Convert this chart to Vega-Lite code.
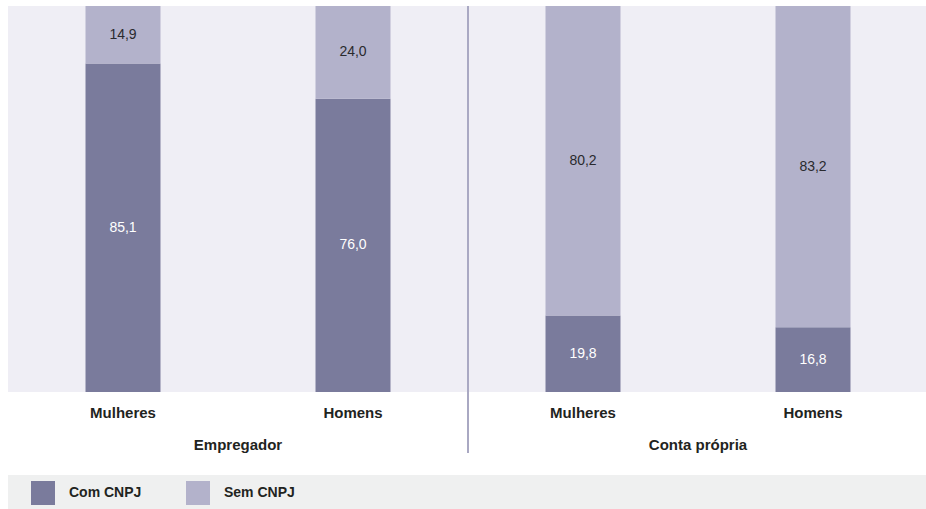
{
  "$schema": "https://vega.github.io/schema/vega-lite/v6.json",
  "width": 920,
  "height": 386,
  "autosize": {"type": "none"},
  "padding": {"left": 8, "top": 6, "right": 0, "bottom": 117},
  "background": "white",
  "config": {
    "view": {"stroke": null, "fill": "#efeef5"},
    "locale": {"number": {"decimal": ",", "thousands": ".", "grouping": [3], "currency": ["R$", ""]}},
    "font": "Liberation Sans"
  },
  "data": {
    "values": [
      {"grupo": "Empregador", "genero": "Mulheres", "coluna": "Empregador|Mulheres", "tipo": "Com CNPJ", "valor": 85.1},
      {"grupo": "Empregador", "genero": "Mulheres", "coluna": "Empregador|Mulheres", "tipo": "Sem CNPJ", "valor": 14.9},
      {"grupo": "Empregador", "genero": "Homens", "coluna": "Empregador|Homens", "tipo": "Com CNPJ", "valor": 76.0},
      {"grupo": "Empregador", "genero": "Homens", "coluna": "Empregador|Homens", "tipo": "Sem CNPJ", "valor": 24.0},
      {"grupo": "Conta própria", "genero": "Mulheres", "coluna": "Conta própria|Mulheres", "tipo": "Com CNPJ", "valor": 19.8},
      {"grupo": "Conta própria", "genero": "Mulheres", "coluna": "Conta própria|Mulheres", "tipo": "Sem CNPJ", "valor": 80.2},
      {"grupo": "Conta própria", "genero": "Homens", "coluna": "Conta própria|Homens", "tipo": "Com CNPJ", "valor": 16.8},
      {"grupo": "Conta própria", "genero": "Homens", "coluna": "Conta própria|Homens", "tipo": "Sem CNPJ", "valor": 83.2}
    ]
  },
  "layer": [
    {
      "encoding": {
        "x": {
          "field": "coluna",
          "type": "nominal",
          "sort": ["Empregador|Mulheres", "Empregador|Homens", "Conta própria|Mulheres", "Conta própria|Homens"],
          "scale": {"paddingInner": 0.674, "paddingOuter": 0.337},
          "axis": {
            "orient": "bottom",
            "title": null,
            "domain": false,
            "ticks": false,
            "tickSize": 0,
            "labelAngle": 0,
            "labelExpr": "split(datum.label, '|')[1]",
            "labelFont": "Liberation Sans",
            "labelFontWeight": "bold",
            "labelFontSize": 15,
            "labelColor": "#1f2421",
            "labelBaseline": "alphabetic",
            "labelPadding": 25
          }
        },
        "y": {
          "field": "valor",
          "type": "quantitative",
          "stack": "zero",
          "scale": {"domain": [0, 100], "nice": false},
          "axis": null
        },
        "order": {"field": "tipo", "sort": "ascending"}
      },
      "layer": [
        {
          "mark": {"type": "bar"},
          "encoding": {
            "color": {
              "field": "tipo",
              "type": "nominal",
              "scale": {"domain": ["Com CNPJ", "Sem CNPJ"], "range": ["#7a7b9c", "#b3b2cb"]},
              "legend": {
                "title": null,
                "orient": "none",
                "legendX": 23,
                "legendY": 475,
                "direction": "horizontal",
                "symbolType": "square",
                "symbolSize": 576,
                "symbolStrokeWidth": 0,
                "symbolOpacity": 1,
                "labelFont": "Liberation Sans",
                "labelFontWeight": "bold",
                "labelFontSize": 14,
                "labelColor": "#1f2421",
                "labelOffset": 14,
                "columnPadding": 44,
                "padding": 0
              }
            }
          }
        },
        {
          "mark": {"type": "text", "font": "Liberation Sans", "fontSize": 14, "baseline": "middle"},
          "encoding": {
            "y": {"field": "valor", "type": "quantitative", "stack": "zero", "bandPosition": 0.5},
            "text": {"field": "valor", "type": "quantitative", "format": ".1f"},
            "color": {
              "condition": {"test": "datum.tipo == 'Com CNPJ'", "value": "#ffffff"},
              "value": "#2a2a2e"
            }
          }
        }
      ]
    },
    {
      "layer": [
        {
          "mark": {"type": "rect", "color": "#eff0f0", "clip": false},
          "encoding": {
            "x": {
              "field": "grupo",
              "type": "nominal",
              "sort": ["Empregador", "Conta própria"],
              "scale": {"domain": ["Empregador", "Conta própria"], "paddingInner": 0, "paddingOuter": 0},
              "axis": {
                "orient": "bottom",
                "title": null,
                "domain": false,
                "ticks": false,
                "tickSize": 0,
                "labelAngle": 0,
                "labelFont": "Liberation Sans",
                "labelFontWeight": "bold",
                "labelFontSize": 15,
                "labelColor": "#1f2421",
                "labelBaseline": "alphabetic",
                "labelPadding": 57
              }
            },
            "y": {"datum": -21.5, "type": "quantitative"},
            "y2": {"datum": -31}
          }
        },
        {
          "mark": {"type": "rule", "color": "#a9a8c2", "strokeWidth": 1, "clip": false},
          "encoding": {
            "x": {"datum": "Conta própria", "type": "nominal", "bandPosition": 0},
            "y": {"datum": 100, "type": "quantitative"},
            "y2": {"datum": -15.8}
          }
        }
      ]
    }
  ],
  "resolve": {"scale": {"x": "independent"}, "axis": {"x": "independent"}}
}
